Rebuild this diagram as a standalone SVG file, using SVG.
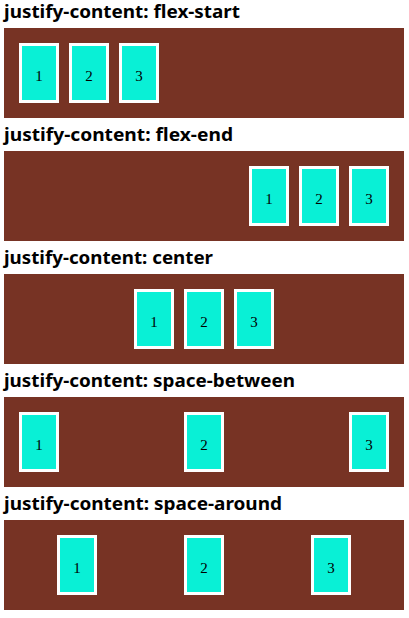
<svg xmlns="http://www.w3.org/2000/svg" width="409" height="618" viewBox="0 0 409 618">
<style>
.h{font-family:"Noto Sans","Open Sans",sans-serif;font-weight:bold;font-size:18px;fill:#000}
.c{fill:#773324}
.b{fill:#09f0d6;stroke:#fff;stroke-width:3}
.n{font-family:"Liberation Serif",serif;font-size:15px;fill:#000;text-anchor:middle}
</style>
<defs>
<g id="box1"><rect class="b" x="1.5" y="1.5" width="37" height="57"/><text class="n" x="20" y="38">1</text></g>
<g id="box2"><rect class="b" x="1.5" y="1.5" width="37" height="57"/><text class="n" x="20" y="38">2</text></g>
<g id="box3"><rect class="b" x="1.5" y="1.5" width="37" height="57"/><text class="n" x="20" y="38">3</text></g>
</defs>
<rect width="409" height="618" fill="#fff"/>
<g id="flex-start">
<text class="h" x="4" y="18" textLength="236" lengthAdjust="spacingAndGlyphs">justify-content: flex-start</text>
<rect class="c" x="4" y="28" width="400" height="90"/>
<use href="#box1" x="19" y="43"/><use href="#box2" x="69" y="43"/><use href="#box3" x="119" y="43"/>
</g>
<g id="flex-end">
<text class="h" x="4" y="141" textLength="229" lengthAdjust="spacingAndGlyphs">justify-content: flex-end</text>
<rect class="c" x="4" y="151" width="400" height="90"/>
<use href="#box1" x="249" y="166"/><use href="#box2" x="299" y="166"/><use href="#box3" x="349" y="166"/>
</g>
<g id="center">
<text class="h" x="4" y="264" textLength="209" lengthAdjust="spacingAndGlyphs">justify-content: center</text>
<rect class="c" x="4" y="274" width="400" height="90"/>
<use href="#box1" x="134" y="289"/><use href="#box2" x="184" y="289"/><use href="#box3" x="234" y="289"/>
</g>
<g id="space-between">
<text class="h" x="4" y="387" textLength="291" lengthAdjust="spacingAndGlyphs">justify-content: space-between</text>
<rect class="c" x="4" y="397" width="400" height="90"/>
<use href="#box1" x="19" y="412"/><use href="#box2" x="184" y="412"/><use href="#box3" x="349" y="412"/>
</g>
<g id="space-around">
<text class="h" x="4" y="510" textLength="278" lengthAdjust="spacingAndGlyphs">justify-content: space-around</text>
<rect class="c" x="4" y="520" width="400" height="90"/>
<use href="#box1" x="57" y="535"/><use href="#box2" x="184" y="535"/><use href="#box3" x="311" y="535"/>
</g>
<g id="connectors"/>
</svg>
